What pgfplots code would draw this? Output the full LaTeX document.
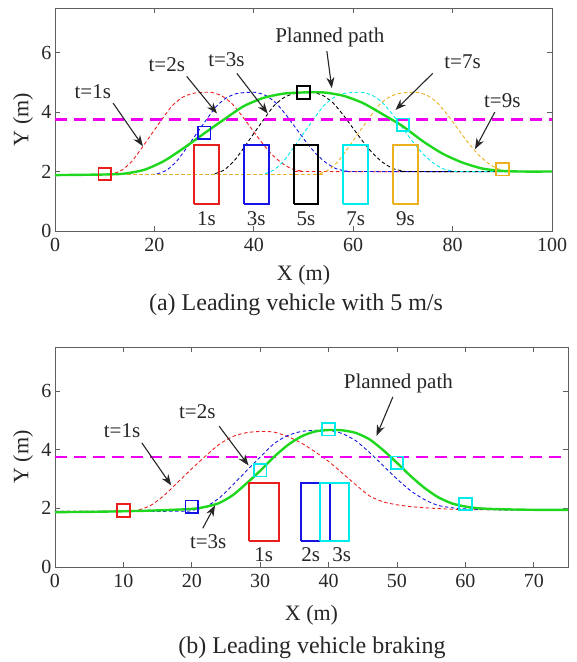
\documentclass[border=0pt]{standalone}
\usepackage{fontspec}
\setmainfont{Liberation Serif}
\usepackage{pgfplots}
\pgfplotsset{compat=1.18}
\usetikzlibrary{arrows.meta}
\definecolor{mgreen}{RGB}{30,215,30}
\definecolor{morange}{RGB}{237,177,32}
\definecolor{mcyan}{RGB}{0,235,235}
\definecolor{mmag}{RGB}{240,0,240}
\definecolor{mred}{RGB}{235,30,30}
\definecolor{mblue}{RGB}{20,20,230}
\definecolor{axgray}{RGB}{95,95,95}
\tikzset{
  ann/.style={font=\fontsize{21}{24}\selectfont, text=black!85},
  arr/.style={-{Stealth[length=11pt,width=8pt]}, line width=1.1pt, black!85},
}
\pgfplotsset{
  myax/.style={scale only axis, ymin=0, ymax=7.5, ytick={0,2,4,6},
    tick align=inside, major tick length=5pt,
    axis line style={axgray, line width=0.9pt},
    tick style={axgray, line width=0.8pt},
    /pgf/number format/assume math mode=true,
    tick label style={font=\fontsize{20}{24}\selectfont, text=black!85},
    label style={font=\fontsize{22}{26}\selectfont, text=black!85},
    xticklabel style={yshift=-4pt}},
  dsh/.style={line width=0.9pt, dash pattern=on 3.5pt off 2.5pt, smooth, tension=0.4},
  mag/.style={mmag, line width=2.2pt, dash pattern=on 12pt off 7pt},
  grn/.style={mgreen, line width=2.4pt, smooth, tension=0.4},
  veh/.style={line width=2pt, sharp plot},
  sq/.style={only marks, mark=square, mark size=6.3pt, mark options={line width=1.8pt}},
}
\begin{document}
\begin{tikzpicture}
\path[use as bounding box] (0pt,0pt) rectangle (577pt,662pt);
% ---------------- (a) ----------------
\begin{axis}[myax, at={(55pt,431pt)}, anchor=south west,
  width=497pt, height=223pt, xmin=0, xmax=100, xtick={0,20,40,60,80,100},
  xlabel={X (m)}, ylabel={Y (m)},
  xlabel style={at={(axis description cs:0.5,-0.197)}, anchor=center},
  ylabel style={at={(axis description cs:-0.064,0.5)}, anchor=center}]
% predicted paths
\addplot[dsh, mred] coordinates {(0,1.9) (9.5,1.90) (11.5,1.92) (13.5,2.05) (15.5,2.35) (17.5,2.80) (19.5,3.28) (21.5,3.75) (23.5,4.20) (25.5,4.48) (27.5,4.62) (29.5,4.66) (31.5,4.66) (33.5,4.55) (35.5,4.30) (37.5,3.90) (39.5,3.45) (41.5,3.00) (43.5,2.60) (45.5,2.30) (47.5,2.10) (49.5,2.02) (51.5,2.00) (100,2.00)};
\addplot[dsh, mblue] coordinates {(0,1.9) (18.5,1.90) (20.5,1.92) (22.5,2.05) (24.5,2.35) (26.5,2.80) (28.5,3.28) (30.5,3.75) (32.5,4.20) (34.5,4.48) (36.5,4.62) (38.5,4.66) (40.5,4.66) (42.5,4.55) (44.5,4.30) (46.5,3.90) (48.5,3.45) (50.5,3.00) (52.5,2.60) (54.5,2.30) (56.5,2.10) (58.5,2.02) (60.5,2.00) (100,2.00)};
\addplot[dsh, black] coordinates {(0,1.9) (30,1.90) (32,1.92) (34,2.05) (36,2.35) (38,2.80) (40,3.28) (42,3.75) (44,4.20) (46,4.48) (48,4.62) (50,4.66) (52,4.66) (54,4.55) (56,4.30) (58,3.90) (60,3.45) (62,3.00) (64,2.60) (66,2.30) (68,2.10) (70,2.02) (72,2.00) (100,2.00)};
\addplot[dsh, mcyan] coordinates {(0,1.9) (40,1.90) (42,1.92) (44,2.05) (46,2.35) (48,2.80) (50,3.28) (52,3.75) (54,4.20) (56,4.48) (58,4.62) (60,4.66) (62,4.66) (64,4.55) (66,4.30) (68,3.90) (70,3.45) (72,3.00) (74,2.60) (76,2.30) (78,2.10) (80,2.02) (82,2.00) (100,2.00)};
\addplot[dsh, morange] coordinates {(0,1.9) (51,1.90) (53,1.92) (55,2.05) (57,2.35) (59,2.80) (61,3.28) (63,3.75) (65,4.20) (67,4.48) (69,4.62) (71,4.66) (73,4.66) (75,4.55) (77,4.30) (79,3.90) (81,3.45) (83,3.00) (85,2.60) (87,2.30) (89,2.10) (91,2.02) (93,2.00) (100,2.00)};
% lane line
\addplot[mag] coordinates {(0,3.75) (100,3.75)};
% planned path
\addplot[grn] coordinates {(0,1.88) (10,1.90) (14,1.93) (18,2.06) (22,2.36) (26,2.80) (30,3.28) (34,3.75) (38,4.20) (42,4.48) (46,4.62) (50,4.66) (54,4.66) (58,4.55) (62,4.30) (66,3.92) (70,3.52) (74,3.02) (78,2.60) (82,2.30) (86,2.10) (90,2.02) (94,2.00) (100,2.00)};
% vehicles
\addplot[veh, mred] coordinates {(28,0.9) (33,0.9) (33,2.88) (28,2.88) (28,0.9)};
\addplot[veh, mblue] coordinates {(38,0.9) (43,0.9) (43,2.88) (38,2.88) (38,0.9)};
\addplot[veh, black] coordinates {(48,0.9) (53,0.9) (53,2.88) (48,2.88) (48,0.9)};
\addplot[veh, mcyan] coordinates {(58,0.9) (63,0.9) (63,2.88) (58,2.88) (58,0.9)};
\addplot[veh, morange] coordinates {(68,0.9) (73,0.9) (73,2.88) (68,2.88) (68,0.9)};
% ego positions
\addplot[sq, mred] coordinates {(10,1.92)};
\addplot[sq, mblue] coordinates {(30,3.30)};
\addplot[sq, black] coordinates {(50,4.66)};
\addplot[sq, mcyan] coordinates {(70,3.57)};
\addplot[sq, morange] coordinates {(90,2.08)};
% labels
\node[ann] at (axis cs:30.5,0.42) {1s};
\node[ann] at (axis cs:40.5,0.42) {3s};
\node[ann] at (axis cs:50.5,0.42) {5s};
\node[ann] at (axis cs:60.5,0.42) {7s};
\node[ann] at (axis cs:70.5,0.42) {9s};
\node[ann] at (axis cs:7.6,4.7) {t=1s};
\node[ann] at (axis cs:22.5,5.6) {t=2s};
\node[ann] at (axis cs:34.5,5.75) {t=3s};
\node[ann] at (axis cs:55.3,6.5) {Planned path};
\node[ann] at (axis cs:82,5.7) {t=7s};
\node[ann] at (axis cs:90,4.4) {t=9s};
\draw[arr] (axis cs:11.7,4.3) -- (axis cs:17.7,2.85);
\draw[arr] (axis cs:26.5,5.2) -- (axis cs:32.6,3.95);
\draw[arr] (axis cs:36.6,5.3) -- (axis cs:42.8,3.95);
\draw[arr] (axis cs:54.7,6.05) -- (axis cs:55.7,4.8);
\draw[arr] (axis cs:76,5.3) -- (axis cs:68.5,4.07);
\draw[arr] (axis cs:88.5,4.0) -- (axis cs:84.5,2.75);
\end{axis}
\node[font=\fontsize{24}{28}\selectfont, text=black!85] at (296pt,357pt) {(a) Leading vehicle with 5 m/s};
% ---------------- (b) ----------------
\begin{axis}[myax, at={(55pt,95pt)}, anchor=south west,
  width=513pt, height=220pt, xmin=0, xmax=75, xtick={0,10,...,70},
  xlabel={X (m)}, ylabel={Y (m)},
  xlabel style={at={(axis description cs:0.5,-0.218)}, anchor=center},
  ylabel style={at={(axis description cs:-0.062,0.5)}, anchor=center}]
\addplot[dsh, mred] coordinates {(0,1.9) (10,1.9) (12,1.93) (14,2.1) (16,2.45) (18,2.9) (20,3.35) (22,3.78) (24,4.18) (26,4.45) (28,4.58) (30,4.62) (32,4.6) (34,4.45) (36,4.23) (38,3.93) (40,3.6) (42,3.2) (44,2.8) (46,2.42) (48,2.22) (50,2.12) (52,2.06) (54,2.02) (58,1.97) (65,1.95) (75,1.95)};
\addplot[dsh, mblue] coordinates {(0,1.9) (18,1.90) (20,1.93) (22,2.05) (24,2.35) (26,2.80) (28,3.28) (30,3.75) (32,4.20) (34,4.48) (36,4.62) (38,4.66) (40,4.66) (42,4.55) (44,4.30) (46,3.90) (48,3.45) (50,3.00) (52,2.60) (54,2.30) (56,2.10) (58,2.02) (60,1.98) (65,1.95) (75,1.95)};
\addplot[mag] coordinates {(0,3.75) (75,3.75)};
\addplot[grn] coordinates {(0,1.87) (5,1.88) (10,1.90) (15,1.93) (20,1.98) (22,2.05) (24,2.18) (26,2.45) (28,2.85) (30,3.28) (32,3.75) (34,4.15) (36,4.45) (38,4.62) (40,4.67) (42,4.66) (44,4.57) (46,4.35) (48,3.98) (50,3.55) (52,3.10) (54,2.70) (56,2.38) (58,2.17) (60,2.06) (62,2.00) (65,1.97) (70,1.95) (75,1.95)};
\addplot[veh, mred] coordinates {(28.3,0.9) (32.7,0.9) (32.7,2.88) (28.3,2.88) (28.3,0.9)};
\addplot[veh, mblue] coordinates {(35.9,0.9) (40.2,0.9) (40.2,2.88) (35.9,2.88) (35.9,0.9)};
\addplot[veh, mcyan] coordinates {(38.8,0.9) (43.0,0.9) (43.0,2.88) (38.8,2.88) (38.8,0.9)};
\addplot[sq, mred] coordinates {(10,1.92)};
\addplot[sq, mblue] coordinates {(20,2.05)};
\addplot[sq, mcyan] coordinates {(30,3.30) (40,4.70) (50,3.55) (60,2.15)};
\node[ann] at (axis cs:30.5,0.42) {1s};
\node[ann] at (axis cs:37.4,0.42) {2s};
\node[ann] at (axis cs:41.9,0.42) {3s};
\node[ann] at (axis cs:9.8,4.65) {t=1s};
\node[ann] at (axis cs:20.8,5.28) {t=2s};
\node[ann] at (axis cs:22.4,0.85) {t=3s};
\node[ann] at (axis cs:50.2,6.25) {Planned path};
\draw[arr] (axis cs:12.7,4.23) -- (axis cs:17,2.78);
\draw[arr] (axis cs:24,4.8) -- (axis cs:28.3,3.46);
\draw[arr] (axis cs:21.6,1.32) -- (axis cs:23.4,2.1);
\draw[arr] (axis cs:49.4,5.8) -- (axis cs:47,4.47);
\end{axis}
\node[font=\fontsize{24}{28}\selectfont, text=black!85] at (312pt,14pt) {(b) Leading vehicle braking};
\end{tikzpicture}
\end{document}
